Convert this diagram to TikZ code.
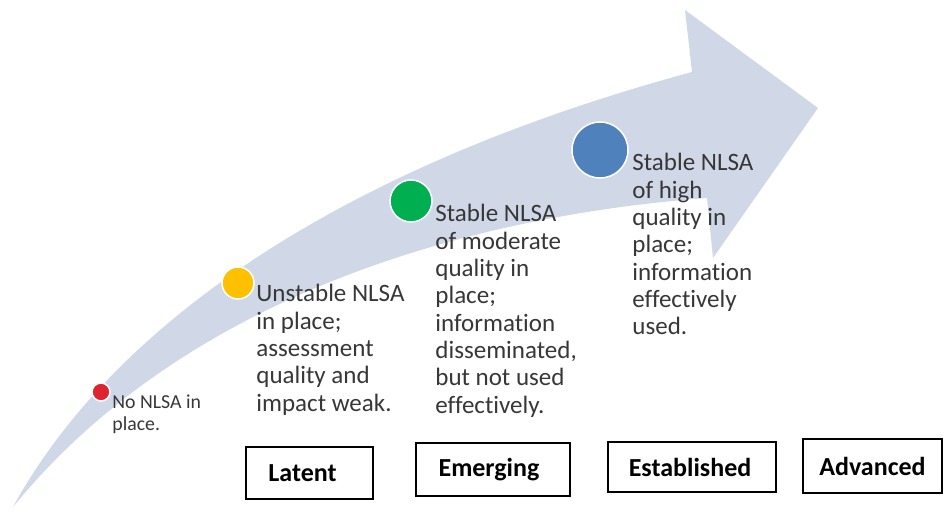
\documentclass[tikz,border=0pt]{standalone}
\usepackage{fontspec}
\setmainfont{Carlito}[Ligatures={NoCommon}]
\definecolor{arrowfill}{RGB}{208,216,232}
\definecolor{dotred}{RGB}{222,36,46}
\definecolor{dotyellow}{RGB}{255,192,0}
\definecolor{dotgreen}{RGB}{0,176,80}
\definecolor{dotblue}{RGB}{79,129,189}
\definecolor{txtgray}{RGB}{55,55,55}
\begin{document}
\begin{tikzpicture}[x=0.5pt,y=-0.5pt,
  dot/.style={circle, draw=white, line width=0.75pt, inner sep=0pt},
  desc/.style={anchor=base west, inner sep=0pt, text=txtgray, font=\fontsize{12.5}{13.65}\selectfont},
  smalldesc/.style={anchor=base west, inner sep=0pt, text=txtgray, font=\fontsize{9.9}{11}\selectfont},
  stagebox/.style={draw=black, line width=1pt, fill=white, inner sep=0pt, font=\fontsize{13}{15}\selectfont\bfseries}
]
\useasboundingbox (0,0) rectangle (944,512);
% big curved arrow
\fill[arrowfill] (13,507) .. controls (110,330) and (330,170) .. (692,72)
  -- (685,10) -- (818,108) -- (713,258) -- (707,198)
  .. controls (480,215) and (190,290) .. (13,507) -- cycle;
% dots
\node[dot, fill=dotred, minimum size=9pt] (d1) at (101,392) {};
\node[dot, fill=dotyellow, minimum size=16pt] (d2) at (238,283) {};
\node[dot, fill=dotgreen, minimum size=21pt] (d3) at (411,201) {};
\node[dot, fill=dotblue, minimum size=28pt] (d4) at (600,150) {};
% descriptions
\node[smalldesc] (t1) at (112,409) {\begin{tabular}[t]{@{}l@{}}No NLSA in\\place.\end{tabular}};
\node[desc] (t2) at (256,302) {\begin{tabular}[t]{@{}l@{}}Unstable NLSA\\in place;\\assessment\\quality and\\impact weak.\end{tabular}};
\node[desc] (t3) at (435,222) {\begin{tabular}[t]{@{}l@{}}Stable NLSA\\of moderate\\quality in\\place;\\information\\disseminated,\\but not used\\effectively.\end{tabular}};
\node[desc] (t4) at (632,171) {\begin{tabular}[t]{@{}l@{}}Stable NLSA\\of high\\quality in\\place;\\information\\effectively\\used.\end{tabular}};
% stage boxes
\node[stagebox, minimum width=63.5pt, minimum height=26pt] (latent) at (309.5,473) {\hspace*{-7pt}Latent};
\node[stagebox, minimum width=77pt, minimum height=26.5pt] (emerging) at (493,469.5) {\hspace*{-4pt}Emerging};
\node[stagebox, minimum width=84pt, minimum height=25pt] (established) at (692,467) {\hspace*{-2pt}Established};
\node[stagebox, minimum width=69.5pt, minimum height=27pt] (advanced) at (872.5,466) {Advanced};
\end{tikzpicture}
\end{document}
